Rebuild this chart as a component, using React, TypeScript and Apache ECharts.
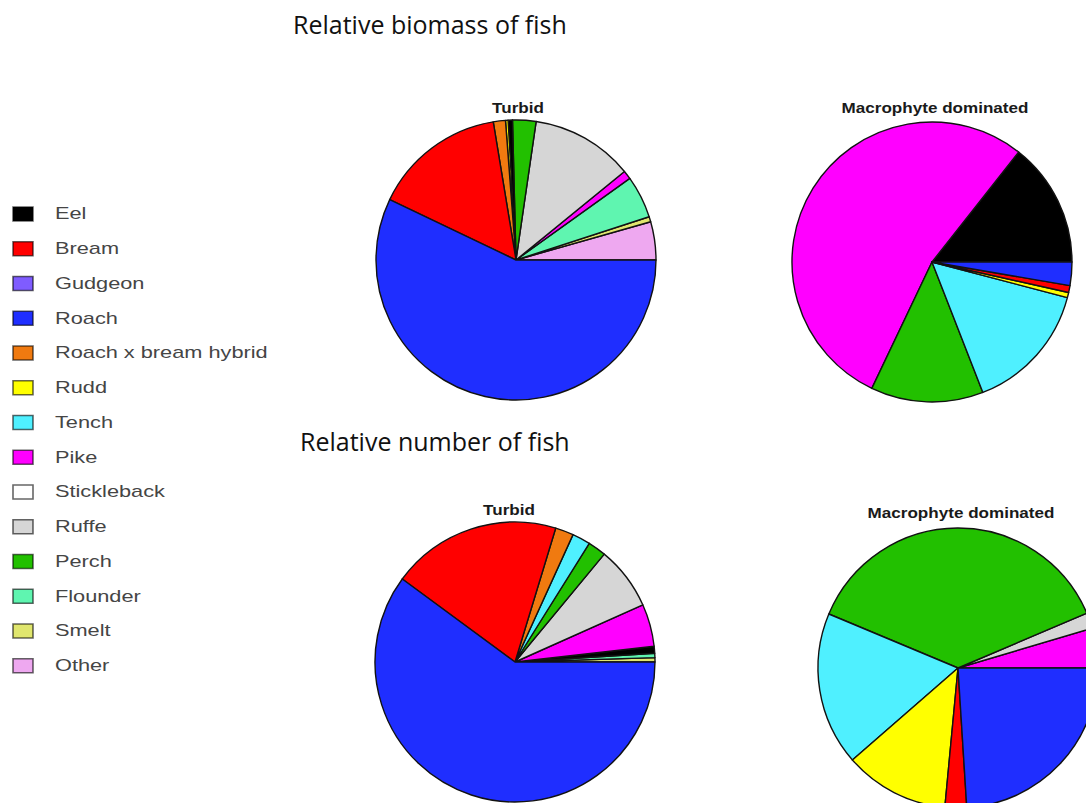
import React, { useEffect, useRef } from "react";
import * as echarts from "echarts";

// Legend species and their colours
const species = [
  "Eel", "Bream", "Gudgeon", "Roach", "Roach x bream hybrid", "Rudd", "Tench",
  "Pike", "Stickleback", "Ruffe", "Perch", "Flounder", "Smelt", "Other",
];
const speciesColors = [
  "#000000", "#FF0000", "#7F5CFF", "#1F2EFF", "#F07A10", "#FFFF00", "#4FF0FF",
  "#FF00FF", "#FFFFFF", "#D6D6D6", "#22C000", "#5FF5B0", "#E0E66E", "#EEA8F0",
];

// Relative biomass, turbid (counter-clockwise from 3 o'clock), %
const biomassTurbidNames = ["Other", "Smelt", "Flounder", "Pike", "Ruffe", "Perch", "Eel", "Rudd", "Roach x bream hybrid", "Bream", "Roach"];
const biomassTurbidValues = [4.4, 0.6, 4.9, 1.0, 11.8, 2.7, 0.5, 0.3, 1.4, 15.3, 57.1];

// Relative biomass, macrophyte dominated
const biomassMacroNames = ["Eel", "Pike", "Perch", "Tench", "Rudd", "Bream", "Roach"];
const biomassMacroValues = [14.4, 53.6, 13.0, 15.0, 0.6, 0.8, 2.7];

// Relative number, turbid
const numberTurbidNames = ["Smelt", "Flounder", "Eel", "Pike", "Ruffe", "Perch", "Tench", "Roach x bream hybrid", "Bream", "Roach"];
const numberTurbidValues = [0.5, 0.5, 0.8, 4.9, 7.3, 2.1, 2.1, 2.1, 19.6, 60.1];

// Relative number, macrophyte dominated
const numberMacroNames = ["Pike", "Ruffe", "Perch", "Tench", "Rudd", "Bream", "Roach"];
const numberMacroValues = [4.6, 1.8, 37.3, 17.7, 12.1, 2.5, 24.0];

const colorOf = (n: string) => speciesColors[species.indexOf(n)];

function pie(names: string[], values: number[], center: number[]) {
  return {
    type: "pie",
    center,
    radius: 140,
    startAngle: 0,
    clockwise: false,
    silent: true,
    label: { show: false },
    labelLine: { show: false },
    emphasis: { disabled: true },
    itemStyle: { borderColor: "#121212", borderWidth: 1.4 },
    data: names.map((n, i) => ({ name: n, value: values[i], itemStyle: { color: colorOf(n) } })),
  };
}

function pieTitle(text: string, x: number, y: number) {
  return {
    type: "text",
    x,
    y,
    scaleX: 1.22,
    style: {
      text,
      fill: "#1a1a1a",
      font: "bold 14px 'Liberation Sans', Arial, sans-serif",
      align: "center",
      verticalAlign: "middle",
    },
  };
}

export default function App() {
  const ref = useRef<HTMLDivElement>(null);
  useEffect(() => {
    if (!ref.current) return;
    const chart = echarts.init(ref.current, undefined, { renderer: "svg" });
    const legendTop = 214;
    const legendStep = 34.75;
    const legendEls: any[] = [];
    species.forEach((s, i) => {
      const yc = legendTop + i * legendStep;
      legendEls.push({
        type: "rect",
        shape: { x: 13, y: yc - 7, width: 20, height: 14 },
        style: { fill: speciesColors[i], stroke: "rgba(0,0,0,0.6)", lineWidth: 1.6 },
      });
      legendEls.push({
        type: "text",
        x: 55,
        y: yc,
        scaleX: 1.36,
        style: {
          text: s,
          fill: "#454545",
          font: "16px 'Liberation Sans', Arial, sans-serif",
          align: "left",
          verticalAlign: "middle",
        },
      });
    });
    chart.setOption({
      animation: false,
      backgroundColor: "#ffffff",
      series: [
        pie(biomassTurbidNames, biomassTurbidValues, [516, 260]),
        pie(biomassMacroNames, biomassMacroValues, [932, 262]),
        pie(numberTurbidNames, numberTurbidValues, [515, 662]),
        pie(numberMacroNames, numberMacroValues, [958, 668]),
      ],
      graphic: [
        {
          type: "text",
          x: 293,
          y: 24,
          style: {
            text: "Relative biomass of fish",
            fill: "#111",
            font: "25px 'Open Sans', sans-serif",
            align: "left",
            verticalAlign: "middle",
          },
        },
        {
          type: "text",
          x: 300,
          y: 441,
          style: {
            text: "Relative number of fish",
            fill: "#111",
            font: "25px 'Open Sans', sans-serif",
            align: "left",
            verticalAlign: "middle",
          },
        },
        pieTitle("Turbid", 518, 108),
        pieTitle("Macrophyte dominated", 935, 108),
        pieTitle("Turbid", 509, 510),
        pieTitle("Macrophyte dominated", 961, 513),
        ...legendEls,
      ],
    });
    return () => chart.dispose();
  }, []);
  return (
    <div
      ref={ref}
      style={{ position: "fixed", left: 0, top: 0, width: 1086, height: 803 }}
    />
  );
}
